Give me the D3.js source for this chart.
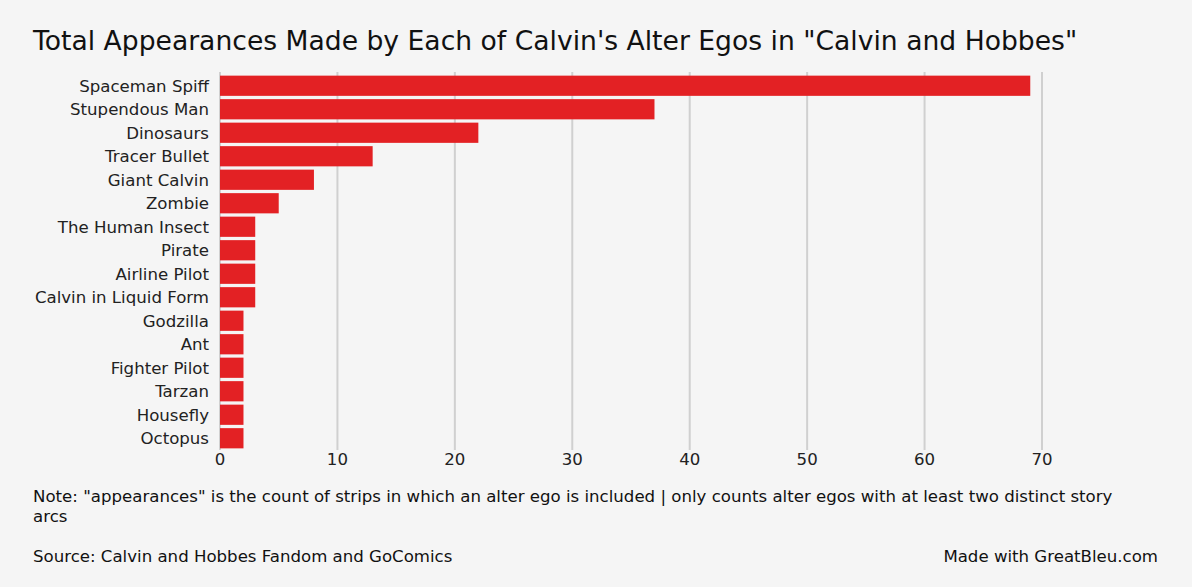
<!DOCTYPE html>
<html><head><meta charset="utf-8">
<script src="https://cdn.jsdelivr.net/npm/d3@7"></script>
<style>body{margin:0;background:#f5f5f5}svg{font-family:"DejaVu Sans",Verdana,sans-serif}</style>
</head><body><svg id="c" width="1192" height="587"></svg>
<script>
const egos = ["Spaceman Spiff","Stupendous Man","Dinosaurs","Tracer Bullet","Giant Calvin","Zombie","The Human Insect","Pirate","Airline Pilot","Calvin in Liquid Form","Godzilla","Ant","Fighter Pilot","Tarzan","Housefly","Octopus"]
const appearances = [69,37,22,13,8,5,3,3,3,3,2,2,2,2,2,2]
const xTicks = [0,10,20,30,40,50,60,70]

const svg = d3.select('#c')
svg.append('rect').attr('width',1192).attr('height',587).attr('fill','#f5f5f5')

const x = d3.scaleLinear().domain([0,70]).range([220,1042])
const y = d3.scaleBand().domain(egos).range([74,450]).paddingInner(0.14).paddingOuter(0.07)
const fs = 16.6

svg.append('text').attr('x',33).attr('y',50).attr('font-size',26.6).attr('fill','#111')
  .text('Total Appearances Made by Each of Calvin\'s Alter Egos in "Calvin and Hobbes"')

svg.append('g').selectAll('line').data(xTicks).join('line')
  .attr('x1',d=>x(d)).attr('x2',d=>x(d)).attr('y1',72).attr('y2',450)
  .attr('stroke','#d0d0d0').attr('stroke-width',2)

svg.append('g').selectAll('rect').data(egos).join('rect')
  .attr('x',x(0)).attr('y',d=>y(d)).attr('height',y.bandwidth())
  .attr('width',(d,i)=>x(appearances[i])-x(0)).attr('fill','#e32124')

svg.append('g').selectAll('text').data(egos).join('text')
  .attr('x',209).attr('y',d=>y(d)+y.bandwidth()/2).attr('dy','0.35em')
  .attr('text-anchor','end').attr('font-size',fs).attr('fill','#222').text(d=>d)

svg.append('g').selectAll('text').data(xTicks).join('text')
  .attr('x',d=>x(d)).attr('y',465).attr('text-anchor','middle')
  .attr('font-size',fs).attr('fill','#222').text(d=>d)

svg.append('text').attr('x',33).attr('y',502).attr('font-size',fs).attr('fill','#111')
  .text('Note: "appearances" is the count of strips in which an alter ego is included | only counts alter egos with at least two distinct story')
svg.append('text').attr('x',33).attr('y',522).attr('font-size',fs).attr('fill','#111').text('arcs')
svg.append('text').attr('x',33).attr('y',562).attr('font-size',fs).attr('fill','#111')
  .text('Source: Calvin and Hobbes Fandom and GoComics')
svg.append('text').attr('x',1158).attr('y',562).attr('text-anchor','end').attr('font-size',fs).attr('fill','#111')
  .text('Made with GreatBleu.com')
</script></body></html>
